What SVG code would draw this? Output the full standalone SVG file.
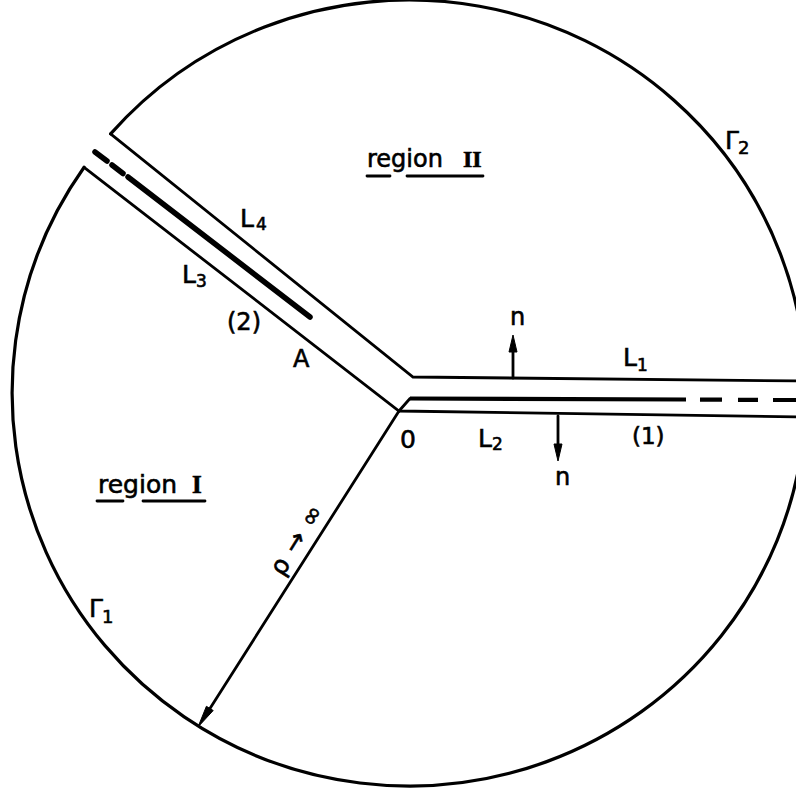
<svg xmlns="http://www.w3.org/2000/svg" width="796" height="789" viewBox="0 0 796 789">
<style>
.ln{fill:none;stroke:#000;stroke-width:2.8;stroke-linejoin:miter;stroke-linecap:round}
.thick{fill:none;stroke:#000;stroke-width:5.5;stroke-linecap:round}
.mid{fill:none;stroke:#000;stroke-width:4.2;stroke-linecap:butt}
.ah{fill:#000;stroke:#000;stroke-width:1;stroke-linejoin:round}
.t{font-family:"DejaVu Sans","Liberation Sans",sans-serif;font-size:24px;fill:#000;stroke:#000;stroke-width:0.6}
.rn{font-family:"Liberation Serif","DejaVu Serif",serif;font-weight:bold}
.sub{font-size:17px}
.ul{stroke:#000;stroke-width:2.8;stroke-linecap:round}
</style>
<rect width="796" height="789" fill="#fff"/>

<g id="outer-boundary">
  <path class="ln" style="stroke-width:3.2" d="M110.6,133.9 A397,393 0 1 1 84.1,167.3"/>
</g>

<g id="region-II-boundary">
  <path class="ln" d="M110.6,133.9 L413,377 L800,381"/>
</g>

<g id="region-I-boundary">
  <path class="ln" d="M84.1,167.3 L399,411 L800,417"/>
</g>

<g id="cut-1">
  <path class="ln" d="M399,411 L410,398.5"/>
  <path class="mid" d="M410,398.5 L686,399.5"/>
  <path class="mid" d="M700,399.6 L722,399.7 M738,399.8 L758,399.9 M773,400 L800,400"/>
</g>

<g id="cut-2">
  <path class="thick" d="M128,177 L310,317"/>
  <path class="thick" d="M95,152 L107,161 M112,165 L123,173.5"/>
</g>

<g id="normals">
  <line class="ln" x1="513" y1="378" x2="513" y2="350"/>
  <polygon class="ah" points="513,335 509,352 517,352"/>
  <line class="ln" x1="558" y1="416" x2="558" y2="446"/>
  <polygon class="ah" points="558,461 554,444 562,444"/>
</g>

<g id="radius">
  <line class="ln" x1="399" y1="411" x2="209" y2="710"/>
  <polygon class="ah" points="198,727 213.2,710.5 206.4,706.3"/>
</g>

<g id="labels">
  <text class="t" x="367" y="167">region<tspan class="rn" x="463">II</tspan></text>
  <line class="ul" x1="367" y1="176" x2="390" y2="176"/>
  <line class="ul" x1="407" y1="176" x2="483" y2="176"/>

  <text class="t" x="98" y="493" style="font-size:25px">region<tspan class="rn" x="192">I</tspan></text>
  <line class="ul" x1="97" y1="501" x2="123" y2="501"/>
  <line class="ul" x1="143" y1="501" x2="205" y2="501"/>

  <text class="t" x="240" y="227" style="font-size:25px">L<tspan class="sub" dx="2" dy="3">4</tspan></text>
  <text class="t" x="182" y="283" style="font-size:25px">L<tspan class="sub" dy="4">3</tspan></text>
  <text class="t" x="623" y="366" style="font-size:25px">L<tspan class="sub" dy="5">1</tspan></text>
  <text class="t" x="478" y="447" style="font-size:25px">L<tspan class="sub" dy="3">2</tspan></text>

  <text class="t" x="227" y="330">(2)</text>
  <text class="t" x="632" y="444" style="font-size:23px">(1)</text>
  <text class="t" x="293" y="367">A</text>
  <text class="t" x="400" y="448" style="font-size:25px">0</text>
  <text class="t" x="510" y="325">n</text>
  <text class="t" x="555" y="485">n</text>

  <text class="t" x="725" y="149" style="font-size:25px">Γ<tspan style="font-size:18px" dx="-1" dy="5">2</tspan></text>
  <text class="t" x="89" y="617" style="font-size:25px">Γ<tspan style="font-size:18px" dx="-1" dy="6">1</tspan></text>

  <text class="t" style="font-size:25px;letter-spacing:10px" text-anchor="middle" transform="translate(306,540) rotate(-58)">ρ→∞</text>
</g>
</svg>
